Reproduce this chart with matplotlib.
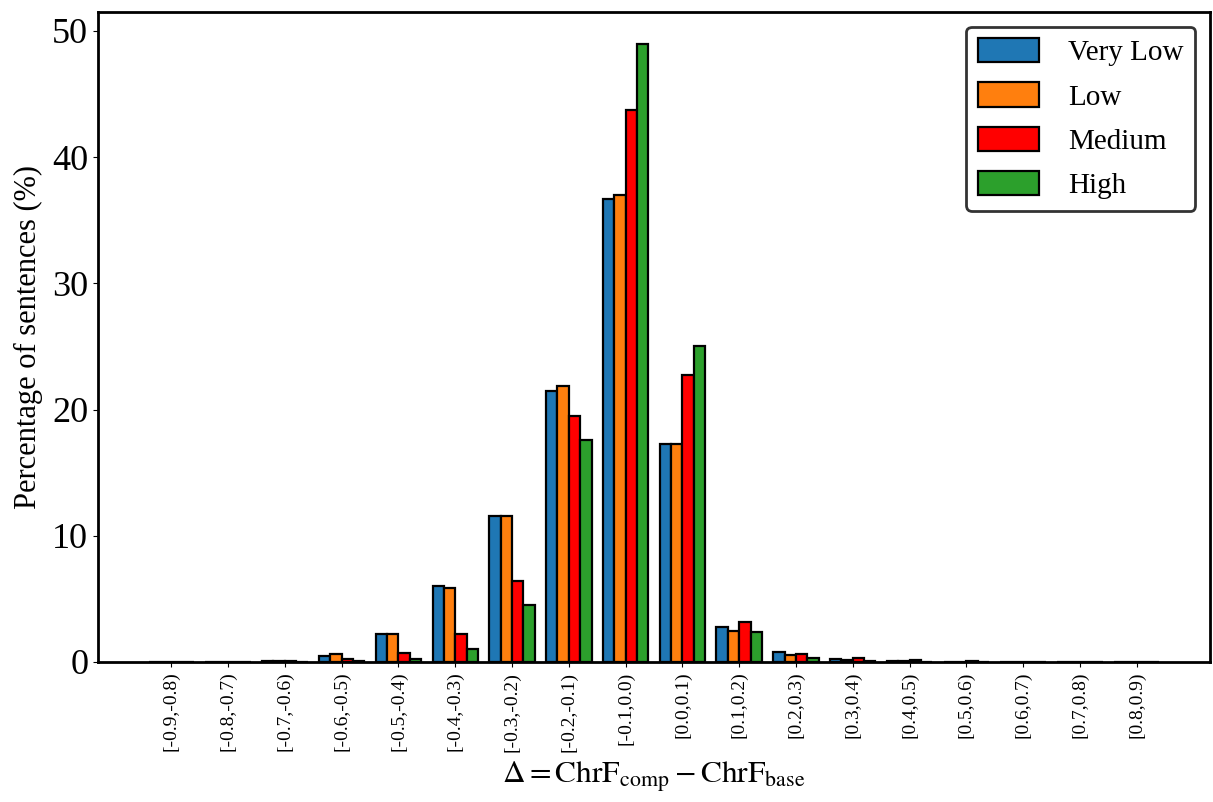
import matplotlib
matplotlib.use("Agg")
import matplotlib.pyplot as plt
import numpy as np

plt.rcParams["font.family"] = ["Liberation Serif", "DejaVu Serif"]
plt.rcParams["mathtext.fontset"] = "stix"

bins = [
    "[-0.9,-0.8)", "[-0.8,-0.7)", "[-0.7,-0.6)", "[-0.6,-0.5)", "[-0.5,-0.4)",
    "[-0.4,-0.3)", "[-0.3,-0.2)", "[-0.2,-0.1)", "[-0.1,0.0)", "[0.0,0.1)",
    "[0.1,0.2)", "[0.2,0.3)", "[0.3,0.4)", "[0.4,0.5)", "[0.5,0.6)",
    "[0.6,0.7)", "[0.7,0.8)", "[0.8,0.9)",
]
very_low = [0.0, 0.02, 0.1, 0.5, 2.2, 6.0, 11.6, 21.5, 36.7, 17.3, 2.8, 0.8, 0.25, 0.08, 0.03, 0.01, 0.0, 0.0]
low = [0.0, 0.02, 0.1, 0.6, 2.2, 5.85, 11.55, 21.9, 37.0, 17.3, 2.45, 0.55, 0.15, 0.05, 0.02, 0.01, 0.0, 0.0]
medium = [0.0, 0.01, 0.05, 0.2, 0.7, 2.2, 6.4, 19.5, 43.75, 22.7, 3.2, 0.65, 0.3, 0.12, 0.05, 0.01, 0.0, 0.0]
high = [0.0, 0.01, 0.02, 0.05, 0.2, 1.0, 4.5, 17.6, 49.0, 25.0, 2.4, 0.3, 0.05, 0.03, 0.02, 0.01, 0.0, 0.0]

series = [
    ("Very Low", very_low, "#1f77b4"),
    ("Low", low, "#ff7f0e"),
    ("Medium", medium, "red"),
    ("High", high, "#2ca02c"),
]

fig = plt.figure(figsize=(12.13, 8.02), dpi=100)
ax = fig.add_axes([0.0808, 0.1746, 0.9167, 0.8104])

x = np.arange(len(bins))
width = 0.2
for i, (name, values, color) in enumerate(series):
    ax.bar(x + (i - 1.5) * width, values, width, color=color, edgecolor="black",
           linewidth=1.6, label=name)

ax.set_xticks(x)
ax.set_xticklabels(bins, rotation=90, fontsize=14)
ax.tick_params(axis="y", labelsize=26)
ax.set_yticks([0, 10, 20, 30, 40, 50])
ax.set_ylim(0, 51.5)
ax.set_ylabel("Percentage of sentences (%)", fontsize=22)
ax.yaxis.set_label_coords(-0.0495, 0.5)
ax.set_xlabel(r"$\Delta = \mathrm{ChrF}_{\mathrm{comp}} - \mathrm{ChrF}_{\mathrm{base}}$", fontsize=22.5,
              labelpad=6)
for spine in ax.spines.values():
    spine.set_linewidth(2)

leg = ax.legend(loc="upper right", fontsize=21, fancybox=True, framealpha=1,
                edgecolor="#333333", handlelength=2.1, handleheight=0.9,
                handletextpad=1.0, labelspacing=0.55)
leg.get_frame().set_linewidth(2)

fig.savefig("out.png", dpi=100, facecolor="white")
